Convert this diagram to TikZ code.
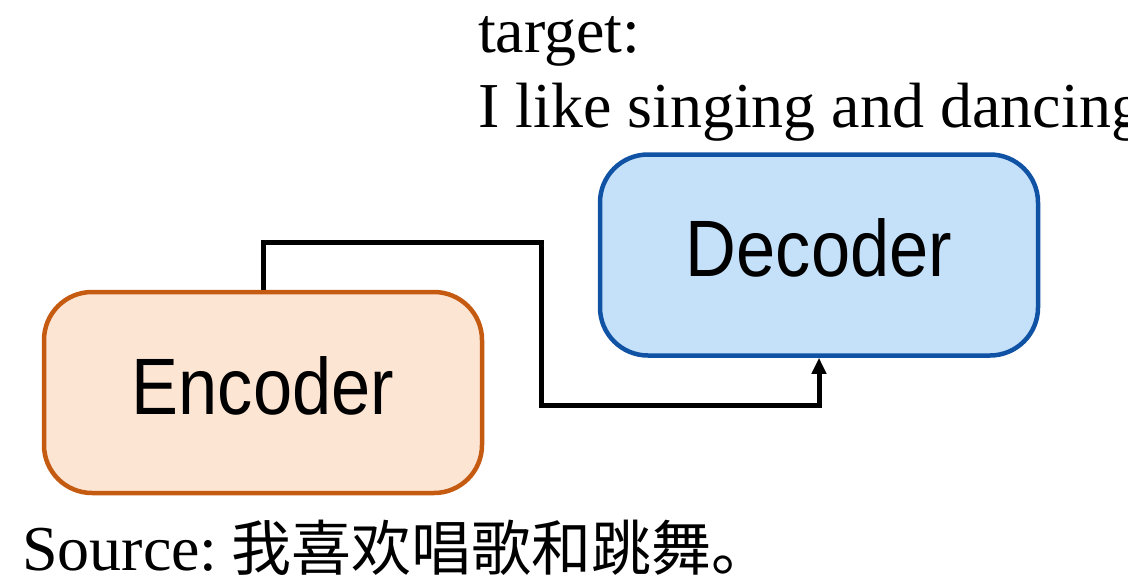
\documentclass[tikz,border=0pt]{standalone}
\usepackage{fontspec}
\setmainfont{Liberation Serif}
\newfontfamily\cjk{Noto Sans CJK SC}
\newfontfamily\boxfont[FakeStretch=0.88]{Liberation Sans}
\usetikzlibrary{arrows.meta}
\definecolor{encfill}{RGB}{252,229,211}
\definecolor{encline}{RGB}{197,90,17}
\definecolor{decfill}{RGB}{197,225,250}
\definecolor{decline}{RGB}{16,83,165}
\tikzset{
  block/.style={rectangle, rounded corners=48pt, line width=4.5pt,
    minimum width=438pt, minimum height=201pt, inner sep=0pt,
    text depth=14pt, font=\boxfont\fontsize{80}{80}\selectfont},
  encblock/.style={block, draw=encline, fill=encfill},
  decblock/.style={block, draw=decline, fill=decfill},
  caption/.style={anchor=base west, inner sep=0pt, font=\fontsize{64}{64}\selectfont},
  link/.style={line width=5pt, line join=miter, -{Triangle[length=16pt,width=14pt]}}
}
\begin{document}
\begin{tikzpicture}[x=1pt,y=-1pt]
\useasboundingbox[fill=white] (0,0) rectangle (1128,584);

% the two blocks
\node[encblock] (enc) at (263,392.5) {Encoder};
\node[decblock] (dec) at (819,255) {Decoder};

% bend points of the connector
\coordinate (up) at (541,242);
\coordinate (down) at (541,405);
\draw[link] (enc.north) |- (up) -- (down) -| (dec.south);

% captions
\node[caption] (tgt) at (478,52) {target:};
\node[caption] (sent) at (478,127) {I like singing and dancing};
\node[caption] (src) at (22,570) {Source:\hspace{14pt}{\cjk\fontsize{60}{60}\selectfont 我喜欢唱歌和跳舞。}};
\end{tikzpicture}
\end{document}
